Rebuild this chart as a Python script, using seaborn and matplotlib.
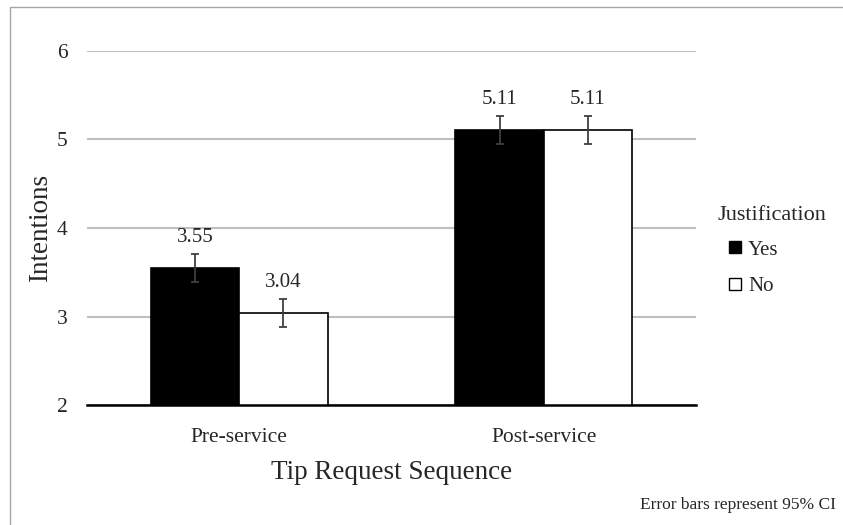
import matplotlib as mpl
mpl.use('Agg')
import matplotlib.pyplot as plt
from matplotlib.lines import Line2D
from matplotlib.patches import Rectangle
import seaborn as sns
import numpy as np
import pandas as pd

sequences = ['Pre-service', 'Post-service']
justification = ['Yes', 'No']
means_yes = [3.55, 5.11]
means_no = [3.04, 5.11]
ci_yes = [0.155, 0.158]
ci_no = [0.155, 0.158]
value_labels_yes = ['3.55', '5.11']
value_labels_no = ['3.04', '5.11']

df = pd.DataFrame({
	'Sequence': sequences * 2,
	'Justification': ['Yes'] * 2 + ['No'] * 2,
	'Intentions': means_yes + means_no,
	'ci': ci_yes + ci_no,
	'label': value_labels_yes + value_labels_no,
})

sns.set_style('white')
plt.rcParams['font.family'] = ['Liberation Serif', 'DejaVu Serif']

fig = plt.figure(figsize=(8.43, 5.25), dpi=100)
ax = fig.add_axes([0.1032, 0.228, 0.7224, 0.6754])

sns.barplot(data=df, x='Sequence', y='Intentions', hue='Justification',
	hue_order=justification, order=sequences, palette=['black', 'white'],
	edgecolor='black', linewidth=1.2, width=0.58, gap=0, errorbar=None,
	legend=False, ax=ax)

# error bars and value labels, placed on the bars seaborn drew
bars = [p for p in ax.patches if p.get_height() > 0]
for bar, (_, row) in zip(bars, df.iterrows()):
	xc = bar.get_x() + bar.get_width() / 2
	ax.errorbar(xc, row['Intentions'], yerr=row['ci'], color='#404040',
		capsize=3, elinewidth=1.3, capthick=1.3, zorder=5)
	ax.text(xc, row['Intentions'] + 0.34, row['label'],
		ha='center', va='center', fontsize=15)

ax.set_ylim(2, 6)
ax.set_xlim(-0.5, 1.5)
ax.set_yticks([2, 3, 4, 5, 6])
ax.yaxis.grid(True, color='#bfbfbf', linewidth=1.5)
ax.set_axisbelow(True)
for s in ['top', 'right', 'left']:
	ax.spines[s].set_visible(False)
ax.spines['bottom'].set_color('black')
ax.spines['bottom'].set_linewidth(1.8)
ax.tick_params(axis='both', length=0, labelsize=15.5)
ax.tick_params(axis='x', pad=16.3)
ax.tick_params(axis='y', pad=14)
ax.set_xlabel('Tip Request Sequence', fontsize=19.5, labelpad=9.2)
ax.set_ylabel('Intentions', fontsize=19.5, labelpad=3)

fig.text(718 / 843, 1 - 216 / 525, 'Justification', ha='left', va='center',
	fontsize=16)

handles = [
	Line2D([], [], marker='s', linestyle='', markersize=8,
		markerfacecolor='black', markeredgecolor='black'),
	Line2D([], [], marker='s', linestyle='', markersize=8,
		markerfacecolor='white', markeredgecolor='black', markeredgewidth=1),
]
leg = fig.legend(handles, justification, loc='upper left',
	bbox_to_anchor=(725 / 843, 1 - 240 / 525), borderaxespad=0, borderpad=0,
	frameon=False, fontsize=15, handlelength=1.0,
	handletextpad=0.1, labelspacing=0.8)

fig.text(836 / 843, 1 - 505 / 525, 'Error bars represent 95% CI',
	ha='right', va='center', fontsize=12.5)

fig.patches.append(Rectangle((10 / 843, -0.05), 1.1, 1.05 - 7 / 525,
	transform=fig.transFigure, fill=False, edgecolor='#a6a6a6',
	linewidth=1, figure=fig))

fig.savefig('out.png', dpi=100)
